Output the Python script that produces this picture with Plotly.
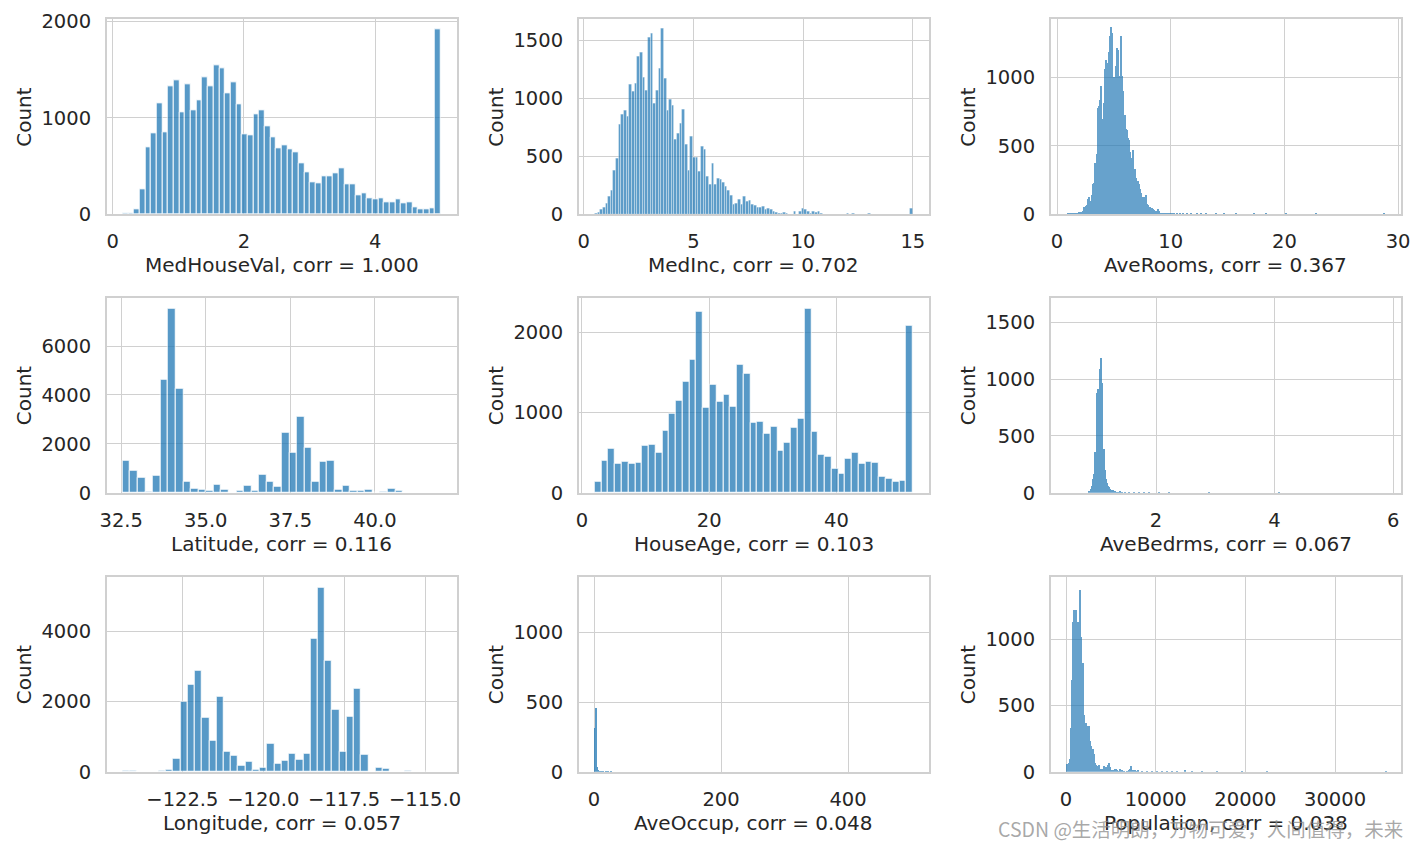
import numpy as np
import plotly.graph_objects as go

W, H = 1425, 847

# ------------------------------------------------------------------ data
# each histogram: first bin edge, bin width, counts per bin
medhouseval_start, medhouseval_width = 0.14999, (5.00001 - 0.14999) / 56
medhouseval_counts = [7, 7, 49, 256, 693, 839, 1151, 856, 1324, 1386, 1057, 1348, 1078, 1182,
                      1418, 1324, 1542, 1511, 1255, 1369, 1137, 828, 818, 1036, 1078, 912, 797,
                      683, 714, 672, 648, 527, 433, 329, 319, 392, 392, 423, 475, 308, 308, 194,
                      215, 170, 159, 170, 128, 128, 159, 118, 128, 76, 55, 55, 66, 1924]

medinc_start, medinc_width = 0.4999, (15.0001 - 0.4999) / 120
medinc_counts = [9, 20, 43, 63, 98, 155, 207, 379, 486, 776, 862, 897, 845, 1121, 1060, 1129,
                 1362, 1394, 1181, 1069, 1523, 1561, 957, 1069, 1259, 1604, 1173, 897, 992, 940,
                 647, 698, 785, 905, 604, 379, 673,
                 491, 491, 371, 586, 560, 328, 259, 440, 259, 310, 302, 276, 241, 207, 164, 86,
                 95, 129, 86, 155, 112, 121, 86, 75, 63, 57, 69, 46, 52, 43, 29, 20, 11, 11, 17,
                 9, 3, 3, 26, 3, 26, 52, 43, 26, 6, 26, 20, 23, 9,
                 4, 3, 3, 2, 3, 2, 2, 3, 2, 6, 2, 6, 2, 2, 3, 1, 2, 6, 2, 1, 1, 2, 1, 1, 1, 2,
                 1, 1, 1, 1, 0, 1, 1, 55]

averooms_start, averooms_width, averooms_nbins = 0.85, 0.0873, 320
averooms_counts = [1, 0, 2, 1, 2, 3, 2, 5, 4, 7, 2, 3, 15, 14, 15, 15, 22, 49, 29, 59, 66, 110,
                   124, 90, 95, 139, 220, 227, 373, 366, 439, 776, 790, 834, 937, 695, 659, 812,
                   1061, 1120, 1098, 1005, 1178, 1295, 1361, 1317, 1002, 1002, 856, 1076, 1207,
                   1193, 798, 1010, 1295, 1010, 900, 695, 724, 622, 615, 556, 541, 454, 410, 410,
                   468, 322, 329, 263, 234, 241, 220, 183, 154, 95, 124, 117, 124, 139, 73, 66,
                   51, 51, 44, 44, 37, 29, 22, 15, 22, 37, 22, 7, 3, 7, 7, 3]
averooms_tail = {98: 3, 99: 2, 100: 2, 101: 1, 102: 2, 104: 1, 105: 1, 107: 1, 110: 2, 113: 1,
                 116: 1, 120: 1, 124: 1, 130: 1, 135: 1, 140: 1, 150: 1, 158: 1, 170: 1,
                 188: 1, 200: 1, 220: 1, 250: 1, 319: 1}

latitude_start, latitude_width = 32.54, (41.95 - 32.54) / 42
latitude_counts = [1290, 883, 598, 41, 679, 4631, 7523, 4264, 435, 149, 109, 68, 312, 109, 10,
                   68, 272, 68, 720, 435, 231, 2472, 1657, 3123, 1860, 435, 1249, 1290, 109, 272,
                   68, 68, 109, 14, 40, 149, 68, 10, 5, 3, 2, 3]

houseage_start, houseage_width = 2.0, 50.0 / 47
houseage_counts = [137, 397, 546, 360, 385, 360, 373, 584, 596, 497, 770, 981, 1143, 1379, 1652,
                   2260, 1056, 1341, 1130, 1217, 1068, 1602, 1478, 869, 882, 733, 820, 522, 621,
                   807, 919, 2298, 758, 472, 447, 298, 236, 422, 497, 360, 385, 373, 199, 174,
                   137, 149, 2087]

avebedrms_start, avebedrms_width, avebedrms_nbins = 0.858, 0.01688, 300
avebedrms_counts = [12, 15, 38, 64, 126, 169, 362, 362, 879, 914, 914, 1089, 1186, 964, 388, 388,
                    204, 126, 91, 64, 55, 38, 29, 20, 29, 12, 12]
avebedrms_tail = {27: 3, 28: 2, 29: 3, 31: 12, 33: 2, 36: 2, 40: 1, 45: 2, 50: 1, 55: 1, 60: 1,
                  70: 1, 80: 1, 120: 1, 190: 1}

longitude_start, longitude_width = -124.35, (124.35 - 114.52) / 44
longitude_counts = [38, 19, 0, 0, 0, 19, 47, 360, 2010, 2493, 2891, 1555, 872, 2152, 559, 446,
                    171, 275, 47, 104, 787, 218, 303, 502, 332, 502, 3801, 5252, 3176, 1782, 559,
                    1583, 2379, 474, 9, 104, 76, 0, 0, 38, 5, 5, 0, 2]

aveoccup_start, aveoccup_width = 0.9, 1.6
aveoccup_counts = [317, 461, 38, 8, 3, 2, 1, 1, 0, 0, 1, 0, 1, 0, 0, 1]

population_start, population_width, population_nbins = 3.0, 111.6, 320
population_counts = [63, 48, 70, 101, 334, 696, 1133, 1224, 1133, 1224, 1081, 1133, 1096, 1375,
                     1020, 772, 824, 432, 229, 372, 349, 281, 349, 236, 199, 168, 176, 138, 70, 55,
                     48, 40, 55, 25, 25, 25, 20, 48, 25, 40, 25, 55, 70, 40, 18, 10, 18, 10, 25,
                     25, 10, 3, 3, 25, 10, 10, 3, 3, 0, 0, 3, 3, 10, 25, 48, 18, 10, 3, 18, 3, 3,
                     10]
population_tail = {75: 3, 80: 2, 85: 3, 90: 2, 95: 2, 100: 1, 105: 2, 110: 1, 118: 10, 125: 1,
                   135: 1, 150: 1, 175: 1, 200: 1, 319: 1}

# subplot titles (x labels) and ticks
xlabels = ["MedHouseVal, corr = 1.000", "MedInc, corr = 0.702", "AveRooms, corr = 0.367",
           "Latitude, corr = 0.116", "HouseAge, corr = 0.103", "AveBedrms, corr = 0.067",
           "Longitude, corr = 0.057", "AveOccup, corr = 0.048", "Population, corr = 0.038"]
xticks = [[0, 2, 4], [0, 5, 10, 15], [0, 10, 20, 30],
          [32.5, 35.0, 37.5, 40.0], [0, 20, 40], [2, 4, 6],
          [-122.5, -120.0, -117.5, -115.0], [0, 200, 400], [0, 10000, 20000, 30000]]
xticktext = [["0", "2", "4"], ["0", "5", "10", "15"], ["0", "10", "20", "30"],
             ["32.5", "35.0", "37.5", "40.0"], ["0", "20", "40"], ["2", "4", "6"],
             ["\u2212122.5", "\u2212120.0", "\u2212117.5", "\u2212115.0"], ["0", "200", "400"],
             ["0", "10000", "20000", "30000"]]
yticks = [[0, 1000, 2000], [0, 500, 1000, 1500], [0, 500, 1000],
          [0, 2000, 4000, 6000], [0, 1000, 2000], [0, 500, 1000, 1500],
          [0, 2000, 4000], [0, 500, 1000], [0, 500, 1000]]


def with_tail(main, tail, n):
    arr = np.zeros(n)
    arr[:len(main)] = main
    for k, v in tail.items():
        arr[k] = v
    return arr


hists = [
    (medhouseval_start, medhouseval_width, np.array(medhouseval_counts, float)),
    (medinc_start, medinc_width, np.array(medinc_counts, float)),
    (averooms_start, averooms_width, with_tail(averooms_counts, averooms_tail, averooms_nbins)),
    (latitude_start, latitude_width, np.array(latitude_counts, float)),
    (houseage_start, houseage_width, np.array(houseage_counts, float)),
    (avebedrms_start, avebedrms_width, with_tail(avebedrms_counts, avebedrms_tail, avebedrms_nbins)),
    (longitude_start, longitude_width, np.array(longitude_counts, float)),
    (aveoccup_start, aveoccup_width, np.array(aveoccup_counts, float)),
    (population_start, population_width, with_tail(population_counts, population_tail, population_nbins)),
]

# ------------------------------------------------------------------ layout constants
x_ranges = [[-0.0925, 5.2425], [-0.225, 15.725], [-0.557, 30.23],
            [32.07, 42.42], [-0.5, 54.5], [0.223, 6.128],
            [-124.84, -114.02], [-24.2, 527], [-1710, 37320]]
y_ranges = [[0, 2024], [0, 1680], [0, 1422], [0, 7980], [0, 2431], [0, 1716],
            [0, 5564], [0, 1401], [0, 1475]]
edge_widths = [0.9, 0.3, 0, 0.9, 0.9, 0, 0.9, 0, 0]
opacities = [0.75, 0.72, 0.68, 0.75, 0.75, 0.7, 0.75, 0.75, 0.68]

OFF = 8.0   # page body margin of the html page
col_left = [106.7 - OFF, 578.7 - OFF, 1050.7 - OFF]
col_w = 350.0
row_top = [19.3 - OFF, 297.7 - OFF, 576.7 - OFF]
row_h = 195.0

GRID = "#d0d0d0"
TXT = "#262626"
FONT = "DejaVu Sans"
BAR = "#1f77b4"

fig = go.Figure()
layout = dict(width=W, height=H, margin=dict(l=0, r=0, t=0, b=0, autoexpand=False),
              plot_bgcolor="white", paper_bgcolor="white", showlegend=False,
              barmode="overlay", bargap=0)
annotations = []

for i in range(9):
    r, c = divmod(i, 3)
    n = i + 1
    start, width, counts = hists[i]
    centers = start + width * (np.arange(len(counts)) + 0.5)
    fig.add_trace(go.Bar(
        x=centers, y=counts, width=width,
        marker=dict(color=BAR, line=dict(color="white", width=edge_widths[i])),
        opacity=opacities[i], xaxis=f"x{n}", yaxis=f"y{n}", hoverinfo="x+y"))

    x0 = col_left[c] / W
    x1 = (col_left[c] + col_w) / W
    y1 = 1 - row_top[r] / H
    y0 = 1 - (row_top[r] + row_h) / H
    common = dict(showgrid=True, gridcolor=GRID, gridwidth=1.2, showline=True, linecolor=GRID,
                  linewidth=1.5, mirror=True, zeroline=False, ticks="", automargin=False,
                  tickfont=dict(family=FONT, size=19.5, color=TXT))
    layout[f"xaxis{n}"] = dict(domain=[x0, x1], range=x_ranges[i], anchor=f"y{n}",
                               tickmode="array", tickvals=xticks[i], ticktext=xticktext[i],
                               ticklabelstandoff=9, **common)
    layout[f"yaxis{n}"] = dict(domain=[y0, y1], range=y_ranges[i], anchor=f"x{n}",
                               tickmode="array", tickvals=yticks[i],
                               ticktext=[str(v) for v in yticks[i]],
                               ticklabelstandoff=10, **common)
    # x label
    annotations.append(dict(text=xlabels[i], xref="paper", yref="paper",
                            x=(x0 + x1) / 2, y=1 - (row_top[r] + row_h + 51) / H,
                            xanchor="center", yanchor="middle", showarrow=False,
                            font=dict(family=FONT, size=20, color=TXT)))
    # y label
    annotations.append(dict(text="Count", xref="paper", yref="paper",
                            x=(col_left[c] - 82.7) / W, y=1 - (row_top[r] + row_h / 2) / H,
                            xanchor="center", yanchor="middle", textangle=-90, showarrow=False,
                            font=dict(family=FONT, size=20, color=TXT)))

annotations.append(dict(text="CSDN @生活明朗，万物可爱，人间值得，未来", xref="paper", yref="paper",
                        x=(996 - OFF) / W, y=1 - (828 - OFF) / H, xanchor="left", yanchor="middle",
                        showarrow=False,
                        font=dict(family="Noto Sans CJK SC", size=19.5, color="rgba(140,140,140,0.75)")))

layout["annotations"] = annotations
fig.update_layout(**layout)
fig.write_html("out.html")
